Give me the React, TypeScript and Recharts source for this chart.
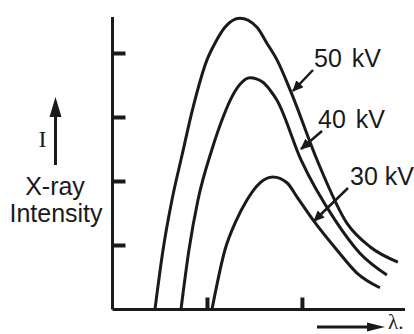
import { LineChart, Line, XAxis, YAxis } from 'recharts'

// wavelength (arbitrary units) vs intensity
const KV50_X = [0.447, 0.532, 0.626, 0.732, 0.847, 0.995, 1.079, 1.184, 1.342, 1.521, 1.626, 1.732, 1.879, 2.153, 2.468, 2.711, 3.005]
const KV50_Y = [0, 0.93, 1.71, 2.41, 3.15, 3.9, 4.16, 4.41, 4.55, 4.41, 4.16, 3.9, 3.4, 2.34, 1.35, 0.98, 0.74]

const KV40_X = [0.721, 0.805, 0.9, 1.047, 1.163, 1.26, 1.35, 1.447, 1.584, 1.658, 1.732, 1.984, 2.342, 2.605, 2.889]
const KV40_Y = [0, 0.93, 1.71, 2.5, 3.0, 3.33, 3.53, 3.62, 3.55, 3.43, 3.27, 2.34, 1.4, 0.88, 0.54]

const KV30_X = [1.047, 1.184, 1.3, 1.416, 1.521, 1.6, 1.689, 1.837, 1.942, 2.111, 2.363, 2.574, 2.816]
const KV30_Y = [0, 0.93, 1.38, 1.71, 1.93, 2.03, 2.07, 1.98, 1.76, 1.4, 0.93, 0.57, 0.34]

const X_TICKS = [1, 2]
const Y_TICKS = [1, 2, 3, 4]
const SERIES_LABELS = ['50 kV', '40 kV', '30 kV']

const INK = '#1a1a1a'
const SANS = '"Liberation Sans", Arial, sans-serif'
const SERIF = '"Liberation Serif", "Times New Roman", serif'

function toPoints(xs: number[], ys: number[]) {
  return xs.map((x, i) => ({ x, y: ys[i] }))
}

// no tick labels, only the tick marks
const NoLabel = () => <g />

export default function App() {
  const curves = [
    toPoints(KV50_X, KV50_Y),
    toPoints(KV40_X, KV40_Y),
    toPoints(KV30_X, KV30_Y),
  ]

  return (
    <div style={{ position: 'absolute', left: 0, top: 0, width: 414, height: 334, background: '#fff', overflow: 'hidden' }}>
      <LineChart width={414} height={334} margin={{ top: 17, right: 9, bottom: 23.5, left: 111.5 }}>
        <XAxis
          dataKey="x"
          type="number"
          domain={[0, 3.08]}
          ticks={X_TICKS}
          height={1}
          tick={NoLabel}
          tickSize={-12}
          axisLine={{ stroke: INK, strokeWidth: 3 }}
          tickLine={{ stroke: INK, strokeWidth: 4 }}
        />
        <YAxis
          type="number"
          domain={[0, 4.57]}
          ticks={Y_TICKS}
          width={1}
          tick={NoLabel}
          tickSize={-13}
          axisLine={{ stroke: INK, strokeWidth: 3 }}
          tickLine={{ stroke: INK, strokeWidth: 4 }}
        />
        {curves.map((data, i) => (
          <Line
            key={SERIES_LABELS[i]}
            data={data}
            dataKey="y"
            type="monotone"
            stroke={INK}
            strokeWidth={3}
            dot={false}
            isAnimationActive={false}
          />
        ))}
      </LineChart>

      <svg width={414} height={334} style={{ position: 'absolute', left: 0, top: 0, pointerEvents: 'none' }}>
        <defs>
          <marker id="head" markerUnits="userSpaceOnUse" markerWidth={12} markerHeight={10} refX={10} refY={5} orient="auto">
            <path d="M0,0 L11,5 L0,10 Z" fill={INK} />
          </marker>
        </defs>

        {/* series labels with leader arrows */}
        <text x={314} y={67} fontFamily={SANS} fontSize={25} fill={INK} wordSpacing={3}>{SERIES_LABELS[0]}</text>
        <line x1={313} y1={70} x2={293} y2={91} stroke={INK} strokeWidth={2.5} markerEnd="url(#head)" />
        <text x={318} y={128} fontFamily={SANS} fontSize={25} fill={INK} wordSpacing={3}>{SERIES_LABELS[1]}</text>
        <line x1={322} y1={131} x2={301} y2={149} stroke={INK} strokeWidth={2.5} markerEnd="url(#head)" />
        <text x={350} y={185} fontFamily={SANS} fontSize={25} fill={INK}>{SERIES_LABELS[2]}</text>
        <line x1={348} y1={188} x2={314} y2={221} stroke={INK} strokeWidth={2.5} markerEnd="url(#head)" />

        {/* y axis title */}
        <text x={42.5} y={147} fontFamily={SERIF} fontSize={24} fill={INK} textAnchor="middle">I</text>
        <line x1={55.5} y1={165} x2={55.5} y2={112} stroke={INK} strokeWidth={3} />
        <path d="M55.5,97 L61.5,117 L49.5,117 Z" fill={INK} />
        <text x={55} y={195} fontFamily={SANS} fontSize={25} fill={INK} textAnchor="middle">X-ray</text>
        <text x={56} y={222} fontFamily={SANS} fontSize={25} fill={INK} textAnchor="middle">Intensity</text>

        {/* x axis title */}
        <line x1={317} y1={327} x2={370} y2={327} stroke={INK} strokeWidth={3} />
        <path d="M385,327 L367,322.5 L367,331.5 Z" fill={INK} />
        <text x={388} y={329} fontFamily={SERIF} fontSize={21} fill={INK}>λ.</text>
      </svg>
    </div>
  )
}
